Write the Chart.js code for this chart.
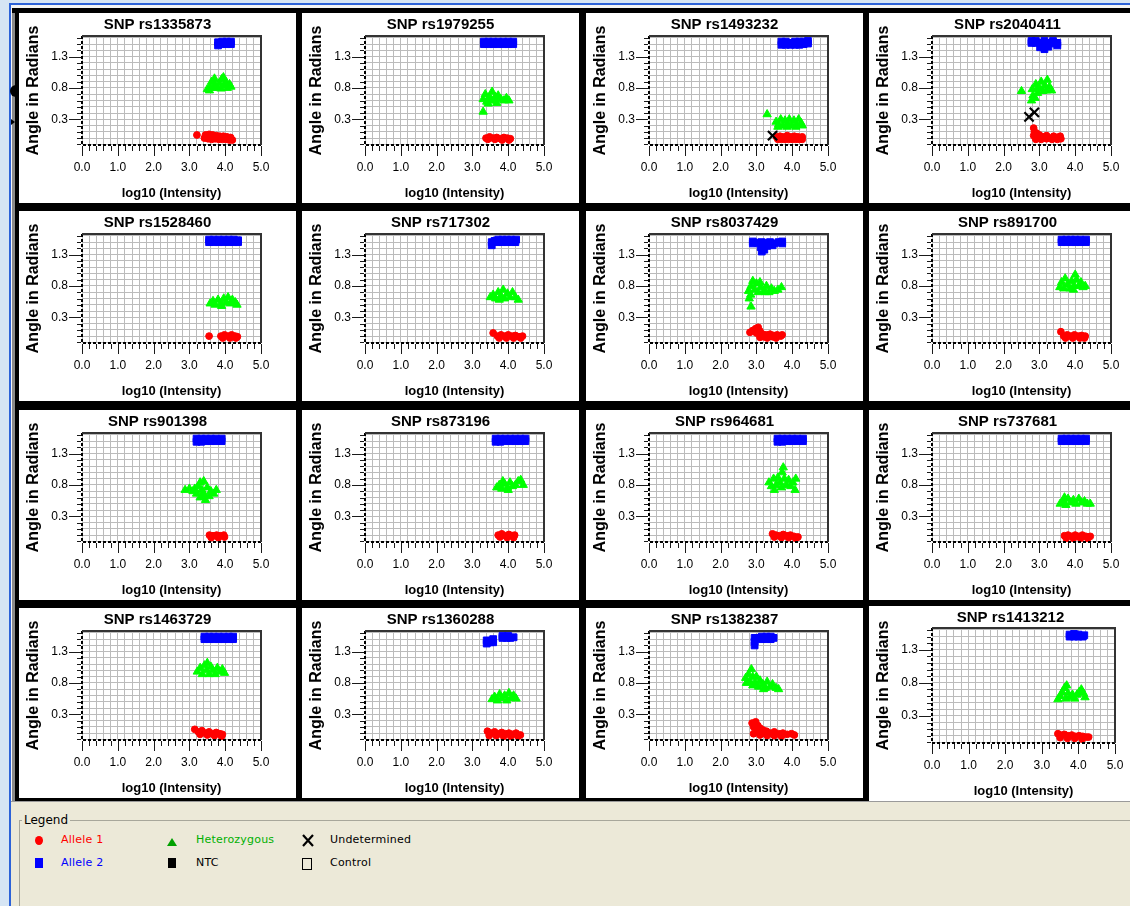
<!DOCTYPE html>
<html>
<head>
<meta charset="utf-8">
<script src="https://cdn.jsdelivr.net/npm/chart.js@4.4.1/dist/chart.umd.min.js"></script>
<style>
  html, body { margin: 0; padding: 0; }
  body { width: 1130px; height: 906px; overflow: hidden; position: relative; background: #D6E5F4; }
  .abs { position: absolute; }
  #blueEdge { left: 9px; top: 3px; width: 1121px; height: 903px; background: #2C62D8; }
  #lightEdge { left: 11px; top: 5px; width: 1119px; height: 901px; background: #F4F4F4; }
  #frame { left: 12px; top: 8px; width: 1118px; height: 794px; background: #000; }
  #frameShade { left: 12px; top: 13px; width: 3px; height: 789px; background: #8A8A8A; }
  .panel { position: absolute; background: #fff; overflow: hidden; }
  .panel canvas { position: absolute; left: 0; top: 0; }
  #legendArea { left: 11px; top: 801px; width: 1119px; height: 105px; background: #ECE9D8; border-top: 1px solid #9A9A9A; }
  #legendBox { left: 19px; top: 820px; width: 1120px; height: 100px; border-top: 1px solid #A8A79B; border-left: 1px solid #A8A79B; }
  #legendCaption { left: 22px; top: 813px; padding: 0 2px; background: #ECE9D8; font: 12px 'DejaVu Sans', sans-serif; color: #000; line-height: 15px; }
  .lgText { position: absolute; font: 11px 'DejaVu Sans', sans-serif; line-height: 13px; letter-spacing: 0.2px; }
</style>
</head>
<body>
<div id="blueEdge" class="abs"></div>
<div id="lightEdge" class="abs"></div>
<div id="frame" class="abs"></div>
<div id="frameShade" class="abs"></div>
<div class="abs" style="left:10px;top:85px;width:7px;height:12px;background:#000;border-radius:6px 0 0 6px;"></div>
<div class="abs" style="left:11px;top:119px;width:0;height:0;border-top:3px solid transparent;border-bottom:3px solid transparent;border-left:4px solid #000;"></div>
<div id="panels"></div>

<div id="legendArea" class="abs"></div>
<div id="legendBox" class="abs"></div>
<div id="legendCaption" class="abs">Legend</div>

<div class="abs" style="left:35px;top:836px;width:8px;height:9px;border-radius:50%;background:#FF0000;"></div>
<div class="lgText" style="left:61px;top:833px;color:#FF0000;">Allele 1</div>
<div class="abs" style="left:35px;top:858px;width:8px;height:10px;background:#0000FF;"></div>
<div class="lgText" style="left:61px;top:856px;color:#0000FF;">Allele 2</div>

<div class="abs" style="left:167px;top:838px;width:0;height:0;border-left:5px solid transparent;border-right:5px solid transparent;border-bottom:8px solid #00A000;"></div>
<div class="lgText" style="left:196px;top:833px;color:#00B000;">Heterozygous</div>
<div class="abs" style="left:168px;top:858px;width:8px;height:10px;background:#000;"></div>
<div class="lgText" style="left:196px;top:856px;color:#000;">NTC</div>

<svg class="abs" style="left:302px;top:834px;" width="12" height="13" viewBox="0 0 12 13">
  <path d="M1 1 L11 12 M11 1 L1 12" stroke="#000" stroke-width="2.2" fill="none"/>
</svg>
<div class="lgText" style="left:330px;top:833px;color:#000;">Undetermined</div>
<div class="abs" style="left:302px;top:858px;width:10px;height:12px;box-sizing:border-box;border:1.6px solid #000;"></div>
<div class="lgText" style="left:330px;top:856px;color:#000;">Control</div>

<script>
// ---- SNP assay identifiers, row by row ----
const snpIds = [
  'rs1335873', 'rs1979255', 'rs1493232', 'rs2040411',
  'rs1528460', 'rs717302',  'rs8037429', 'rs891700',
  'rs901398',  'rs873196',  'rs964681',  'rs737681',
  'rs1463729', 'rs1360288', 'rs1382387', 'rs1413212'
];

// ---- genotype calls: [log10 intensity, angle in radians], one list per SNP ----
const allele1 = [
  [[3.21,0.05],[3.45,0.05],[3.55,0.06],[3.65,0.05],[3.75,0.04],[3.85,0.03],[3.95,0.03],[4.05,0.02],[4.15,0.01],[3.42,0.0],[3.52,-0.01],[3.62,-0.02],[3.72,-0.01],[3.82,-0.02],[3.92,-0.02],[4.02,-0.02],[4.12,-0.03],[4.2,-0.03]],
  [[3.38,0.0],[3.48,0.02],[3.58,0.0],[3.68,0.01],[3.78,-0.01],[3.88,0.01],[3.98,0.0],[4.06,-0.01],[3.43,-0.02],[3.63,-0.02],[3.83,-0.03],[4.02,-0.03]],
  [[3.56,0.02],[3.66,0.03],[3.76,0.02],[3.86,0.04],[3.96,0.02],[4.06,0.03],[4.16,0.02],[4.28,0.02],[3.6,-0.02],[3.7,-0.02],[3.8,-0.02],[3.9,-0.02],[4.0,-0.02],[4.1,-0.02],[4.2,-0.02],[4.28,-0.02]],
  [[2.84,0.16],[2.86,0.1],[2.84,0.04],[2.95,0.0],[3.0,0.05],[3.1,0.02],[3.2,0.04],[3.3,0.0],[3.4,0.03],[3.5,0.01],[3.58,0.03],[2.92,0.08],[3.2,-0.01],[2.9,-0.02],[3.05,-0.02],[3.35,-0.02],[3.5,-0.02],[3.6,-0.01]],
  [[3.55,0.0],[3.88,0.0],[3.98,0.02],[4.08,0.0],[4.18,0.02],[4.28,0.0],[4.34,-0.01],[3.93,-0.03],[4.13,-0.03],[4.3,-0.03]],
  [[3.58,0.05],[3.7,0.0],[3.8,0.02],[3.9,0.0],[4.0,0.02],[4.1,0.0],[4.2,0.01],[4.3,-0.01],[4.4,0.0],[3.75,-0.03],[3.95,-0.03],[4.15,-0.03],[4.35,-0.03]],
  [[2.82,0.06],[2.9,0.09],[2.98,0.12],[3.05,0.14],[3.1,0.08],[3.0,0.05],[3.18,0.03],[3.28,0.02],[3.38,0.03],[3.48,0.01],[3.58,0.02],[3.68,0.0],[3.72,0.02],[3.2,-0.01],[3.45,-0.01],[3.1,-0.02],[3.3,-0.03],[3.55,-0.03]],
  [[3.6,0.07],[3.68,0.0],[3.78,0.02],[3.88,0.0],[3.98,0.02],[4.08,0.0],[4.18,0.01],[4.28,0.0],[3.73,-0.03],[3.93,-0.03],[4.13,-0.03],[4.26,-0.03]],
  [[3.56,0.0],[3.66,-0.01],[3.76,0.0],[3.86,-0.01],[3.96,0.0],[3.98,-0.03],[3.61,-0.04],[3.81,-0.04]],
  [[3.72,0.0],[3.82,0.02],[3.92,-0.01],[4.02,0.01],[4.12,-0.01],[4.18,0.0],[3.77,-0.03],[3.97,-0.04],[4.15,-0.04]],
  [[3.45,0.02],[3.55,0.0],[3.65,-0.01],[3.75,0.01],[3.85,-0.01],[3.95,0.0],[4.05,-0.02],[4.16,-0.03],[3.5,-0.03],[3.7,-0.04],[3.9,-0.04],[4.1,-0.05]],
  [[3.7,-0.01],[3.8,0.0],[3.9,-0.02],[4.0,0.0],[4.1,-0.02],[4.2,0.0],[4.3,-0.02],[4.42,-0.02],[3.75,-0.05],[3.95,-0.05],[4.15,-0.05],[4.35,-0.05]],
  [[3.15,0.06],[3.25,0.02],[3.35,0.04],[3.45,0.0],[3.55,0.02],[3.65,-0.01],[3.75,0.01],[3.85,-0.01],[3.92,-0.02],[3.3,-0.02],[3.5,-0.03],[3.7,-0.04],[3.9,-0.05]],
  [[3.42,0.03],[3.52,0.0],[3.62,0.02],[3.72,-0.01],[3.82,0.01],[3.92,-0.01],[4.02,0.0],[4.12,-0.02],[4.22,0.0],[4.34,-0.03],[3.47,-0.04],[3.67,-0.04],[3.87,-0.05],[4.07,-0.05],[4.27,-0.05]],
  [[2.88,0.16],[2.92,0.1],[2.98,0.18],[3.04,0.12],[3.1,0.08],[3.0,0.04],[3.18,0.05],[3.28,0.03],[3.38,0.0],[3.5,0.02],[3.62,-0.01],[3.74,0.0],[3.86,-0.02],[3.98,-0.01],[4.06,-0.03],[3.2,0.0],[2.92,-0.01],[3.1,-0.03],[3.3,-0.04],[3.5,-0.04],[3.7,-0.05]],
  [[3.44,0.03],[3.52,0.01],[3.62,0.02],[3.72,0.0],[3.82,0.01],[3.92,-0.01],[4.02,0.0],[4.12,-0.01],[4.22,-0.02],[4.28,-0.02],[3.5,-0.03],[3.7,-0.04],[3.9,-0.04],[4.1,-0.05]]
];

const allele2 = [
  [[3.8,1.48],[3.8,1.53],[3.92,1.5],[3.92,1.54],[4.04,1.5],[4.04,1.54],[4.16,1.5],[4.16,1.54]],
  [[3.32,1.5],[3.32,1.54],[3.45,1.5],[3.45,1.54],[3.58,1.5],[3.58,1.54],[3.72,1.5],[3.72,1.54],[3.86,1.5],[3.86,1.54],[4.0,1.5],[4.0,1.54],[4.14,1.5],[4.14,1.54]],
  [[3.7,1.49],[3.7,1.54],[3.82,1.49],[3.82,1.54],[3.95,1.49],[3.95,1.52],[4.08,1.49],[4.08,1.54],[4.2,1.49],[4.2,1.54],[4.32,1.5],[4.32,1.54],[4.44,1.51],[4.44,1.55]],
  [[2.78,1.52],[2.78,1.55],[2.9,1.52],[2.9,1.55],[3.02,1.52],[3.14,1.55],[3.14,1.5],[3.26,1.52],[3.38,1.55],[3.38,1.51],[3.5,1.52],[3.5,1.48],[3.02,1.45],[3.14,1.42],[3.25,1.46]],
  [[3.55,1.5],[3.55,1.54],[3.68,1.5],[3.68,1.54],[3.82,1.5],[3.82,1.54],[3.96,1.5],[3.96,1.54],[4.1,1.5],[4.1,1.54],[4.24,1.5],[4.24,1.54],[4.36,1.5],[4.36,1.53]],
  [[3.54,1.45],[3.54,1.5],[3.62,1.52],[3.72,1.5],[3.72,1.54],[3.84,1.5],[3.84,1.54],[3.96,1.5],[3.96,1.54],[4.08,1.5],[4.08,1.54],[4.2,1.5],[4.22,1.54]],
  [[2.9,1.48],[2.9,1.51],[3.02,1.49],[3.14,1.5],[3.26,1.49],[3.38,1.5],[3.5,1.48],[3.62,1.5],[3.72,1.48],[3.72,1.51],[3.12,1.42],[3.22,1.38],[3.15,1.35],[3.3,1.44],[3.45,1.45]],
  [[3.62,1.5],[3.62,1.54],[3.75,1.5],[3.75,1.54],[3.88,1.5],[3.88,1.54],[4.0,1.5],[4.0,1.54],[4.14,1.5],[4.14,1.54],[4.3,1.5],[4.3,1.54]],
  [[3.2,1.49],[3.2,1.54],[3.33,1.49],[3.33,1.54],[3.46,1.5],[3.46,1.54],[3.6,1.5],[3.6,1.54],[3.74,1.5],[3.74,1.54],[3.9,1.5],[3.9,1.54]],
  [[3.65,1.49],[3.65,1.54],[3.78,1.49],[3.78,1.54],[3.92,1.5],[3.92,1.54],[4.06,1.5],[4.06,1.54],[4.2,1.5],[4.2,1.54],[4.34,1.5],[4.34,1.54],[4.48,1.5],[4.48,1.54]],
  [[3.59,1.49],[3.59,1.54],[3.72,1.49],[3.72,1.54],[3.86,1.5],[3.86,1.54],[4.0,1.5],[4.0,1.54],[4.14,1.5],[4.14,1.54],[4.3,1.5],[4.3,1.54]],
  [[3.62,1.5],[3.62,1.54],[3.75,1.5],[3.75,1.54],[3.88,1.5],[3.88,1.54],[4.02,1.5],[4.02,1.54],[4.16,1.5],[4.16,1.54],[4.3,1.5],[4.3,1.54]],
  [[3.42,1.5],[3.42,1.54],[3.55,1.5],[3.55,1.54],[3.68,1.5],[3.68,1.54],[3.82,1.5],[3.82,1.54],[3.96,1.5],[3.96,1.54],[4.1,1.5],[4.1,1.54],[4.22,1.5],[4.22,1.54]],
  [[3.4,1.43],[3.4,1.48],[3.5,1.45],[3.58,1.5],[3.58,1.45],[3.84,1.52],[3.84,1.55],[3.96,1.52],[4.0,1.55],[4.06,1.52],[4.15,1.53]],
  [[2.95,1.52],[2.95,1.46],[2.95,1.4],[3.05,1.52],[3.15,1.5],[3.15,1.54],[3.28,1.5],[3.28,1.54],[3.4,1.5],[3.4,1.54],[3.48,1.52]],
  [[3.76,1.5],[3.76,1.53],[3.88,1.5],[3.88,1.54],[4.0,1.5],[4.0,1.53],[4.12,1.5],[4.16,1.52]]
];

const heterozygous = [
  [[3.5,0.78],[3.58,0.82],[3.62,0.9],[3.66,0.8],[3.72,0.86],[3.78,0.8],[3.84,0.88],[3.9,0.94],[3.95,0.97],[3.98,0.84],[4.02,0.9],[4.06,0.8],[4.12,0.86],[4.16,0.82],[3.56,0.76],[3.7,0.95],[3.88,0.79]],
  [[3.3,0.42],[3.3,0.62],[3.36,0.7],[3.4,0.58],[3.48,0.66],[3.55,0.74],[3.6,0.6],[3.68,0.56],[3.72,0.68],[3.8,0.62],[3.88,0.6],[3.95,0.64],[4.02,0.6],[3.44,0.55],[3.52,0.6],[3.64,0.66]],
  [[3.3,0.38],[3.55,0.26],[3.62,0.22],[3.68,0.3],[3.75,0.2],[3.8,0.28],[3.88,0.22],[3.92,0.3],[4.0,0.2],[4.05,0.28],[4.12,0.22],[4.18,0.3],[4.25,0.24],[3.6,0.18],[3.85,0.18],[4.1,0.18],[4.28,0.2]],
  [[2.5,0.75],[2.78,0.6],[2.82,0.68],[2.8,0.78],[2.9,0.86],[2.95,0.72],[3.0,0.8],[3.05,0.9],[3.1,0.75],[3.15,0.84],[3.22,0.93],[3.28,0.82],[3.34,0.76],[2.88,0.64],[3.2,0.76],[2.95,0.8]],
  [[3.58,0.52],[3.66,0.56],[3.72,0.5],[3.8,0.58],[3.88,0.52],[3.96,0.6],[4.02,0.54],[4.08,0.62],[4.14,0.52],[4.2,0.58],[4.28,0.54],[4.33,0.5],[3.9,0.48]],
  [[3.5,0.62],[3.58,0.66],[3.65,0.6],[3.72,0.7],[3.8,0.64],[3.86,0.74],[3.9,0.6],[3.98,0.68],[4.05,0.62],[4.12,0.7],[4.2,0.62],[4.28,0.58],[3.75,0.58]],
  [[2.85,0.47],[2.8,0.6],[2.78,0.72],[2.85,0.8],[2.9,0.88],[2.95,0.74],[3.0,0.84],[3.05,0.7],[3.12,0.78],[3.2,0.72],[3.28,0.8],[3.35,0.7],[3.42,0.76],[3.5,0.72],[3.6,0.74],[3.7,0.78],[3.1,0.86],[2.84,0.66],[3.25,0.7]],
  [[3.57,0.78],[3.62,0.86],[3.68,0.76],[3.72,0.92],[3.78,0.82],[3.85,0.76],[3.9,0.88],[3.96,0.8],[4.0,0.98],[4.04,0.9],[4.1,0.8],[4.16,0.86],[4.22,0.78],[4.28,0.8],[3.95,0.74]],
  [[2.88,0.72],[3.0,0.74],[3.1,0.7],[3.2,0.66],[3.25,0.78],[3.3,0.6],[3.35,0.72],[3.4,0.86],[3.42,0.64],[3.5,0.76],[3.55,0.62],[3.6,0.7],[3.68,0.66],[3.75,0.72],[3.3,0.84],[3.45,0.56],[3.38,0.66],[3.15,0.74]],
  [[3.68,0.76],[3.75,0.8],[3.82,0.74],[3.9,0.82],[3.98,0.76],[4.05,0.84],[4.12,0.78],[4.2,0.8],[4.28,0.86],[4.35,0.88],[4.42,0.8],[3.85,0.86],[4.0,0.72]],
  [[3.35,0.84],[3.42,0.78],[3.48,0.9],[3.55,0.8],[3.6,0.92],[3.66,0.84],[3.72,1.0],[3.75,1.08],[3.78,0.9],[3.84,0.8],[3.9,0.88],[3.96,0.78],[4.02,0.84],[4.08,0.72],[4.1,0.9],[3.5,0.72],[3.7,0.76]],
  [[3.58,0.5],[3.66,0.54],[3.74,0.48],[3.8,0.58],[3.88,0.52],[3.95,0.56],[4.02,0.5],[4.1,0.58],[4.18,0.52],[4.26,0.54],[4.34,0.5],[4.42,0.5],[3.7,0.6]],
  [[3.22,0.98],[3.3,1.04],[3.36,0.94],[3.42,1.08],[3.48,1.0],[3.55,0.94],[3.6,1.06],[3.66,1.0],[3.72,0.94],[3.78,1.04],[3.85,0.98],[3.92,1.02],[3.98,0.96],[3.5,1.12]],
  [[3.55,0.54],[3.62,0.58],[3.7,0.52],[3.76,0.62],[3.82,0.56],[3.9,0.6],[3.96,0.52],[4.02,0.64],[4.08,0.56],[4.15,0.6],[4.22,0.55]],
  [[2.7,0.88],[2.78,0.94],[2.82,0.82],[2.86,1.02],[2.9,0.9],[2.96,0.8],[3.0,0.9],[3.06,0.74],[3.1,0.84],[3.18,0.78],[3.25,0.72],[3.3,0.82],[3.38,0.74],[3.45,0.78],[3.55,0.72],[3.62,0.7],[2.72,0.8],[3.2,0.7],[2.9,0.76]],
  [[3.44,0.55],[3.5,0.6],[3.56,0.66],[3.62,0.72],[3.68,0.76],[3.72,0.64],[3.78,0.58],[3.84,0.62],[3.9,0.56],[3.96,0.62],[4.02,0.66],[4.08,0.7],[4.14,0.64],[4.18,0.58],[3.66,0.56]]
];

const undetermined = [
  [], [], [[3.45,0.04]], [[2.71,0.34],[2.86,0.41]],
  [], [], [], [],
  [], [], [], [],
  [], [], [], []
];

// ---- axis ticks ----
const xGridValues = [0, 0.2, 0.4, 0.6, 0.8, 1, 1.2, 1.4, 1.6, 1.8, 2, 2.2, 2.4, 2.6, 2.8, 3, 3.2, 3.4, 3.6, 3.8, 4, 4.2, 4.4, 4.6, 4.8, 5];
const yGridValues = [-0.1, 0, 0.1, 0.2, 0.3, 0.4, 0.5, 0.6, 0.7, 0.8, 0.9, 1.0, 1.1, 1.2, 1.3, 1.4, 1.5, 1.6];
const xTickValues = [0, 1, 2, 3, 4, 5];
const xTickLabels = ['0.0', '1.0', '2.0', '3.0', '4.0', '5.0'];
const yTickValues = [0.3, 0.8, 1.3];
const yTickLabels = ['0.3', '0.8', '1.3'];

// ---- fonts ----
const SANS = "'Liberation Sans', Arial, sans-serif";
const tickFont = {family: SANS, size: 12};
const xTitleFont = {family: SANS, size: 13, weight: 'bold'};
const yTitleFont = {family: SANS, size: 16, weight: 'bold'};

function labelAt(value, values, labels) {
  for (let i = 0; i < values.length; i++) {
    if (Math.abs(values[i] - value) < 1e-6) return labels[i];
  }
  return '';
}

// tick marks (long at labelled ticks), dashed left/bottom axis lines,
// and the solid top/right frame of each plot
const plotDecor = {
  id: 'plotDecor',
  afterDraw(chart) {
    const {ctx, chartArea: a, scales: {x, y}} = chart;
    ctx.save();
    ctx.strokeStyle = '#1a1a1a';
    ctx.lineWidth = 1;
    ctx.beginPath();
    x.ticks.forEach(t => {
      const px = Math.round(x.getPixelForValue(t.value)) + 0.5;
      const len = labelAt(t.value, xTickValues, xTickLabels) ? 10 : 5;
      ctx.moveTo(px, a.bottom + 1);
      ctx.lineTo(px, a.bottom + 1 + len);
    });
    y.ticks.forEach(t => {
      const py = Math.round(y.getPixelForValue(t.value)) + 0.5;
      const len = labelAt(t.value, yTickValues, yTickLabels) ? 12 : 4;
      ctx.moveTo(a.left - 1, py);
      ctx.lineTo(a.left - 1 - len, py);
    });
    ctx.stroke();

    ctx.strokeStyle = '#000';
    ctx.lineWidth = 2;
    ctx.setLineDash([3, 2]);
    ctx.beginPath();
    ctx.moveTo(a.left, a.top);
    ctx.lineTo(a.left, a.bottom);
    ctx.lineTo(a.right, a.bottom);
    ctx.stroke();

    ctx.setLineDash([]);
    ctx.strokeStyle = '#333';
    ctx.beginPath();
    ctx.moveTo(a.left, a.top);
    ctx.lineTo(a.right, a.top);
    ctx.lineTo(a.right, a.bottom);
    ctx.stroke();
    ctx.restore();
  }
};

function toPoints(list) { return list.map(p => ({x: p[0], y: p[1]})); }

const colLeft = [19, 302, 586, 869];
const rowTop = [13, 211, 410, 608];

function buildPanel(i) {
  const r = Math.floor(i / 4), c = i % 4;
  const last = (i === 15);
  const left = colLeft[c];
  const top = last ? 606 : rowTop[r];
  const cw = last ? 283 : 277;
  const ch = last ? 195 : 190;

  const div = document.createElement('div');
  div.className = 'panel';
  div.style.left = left + 'px';
  div.style.top = top + 'px';
  div.style.width = Math.min(cw, 1130 - left) + 'px';
  div.style.height = ch + 'px';
  const canvas = document.createElement('canvas');
  canvas.width = cw;
  canvas.height = ch;
  div.appendChild(canvas);
  document.getElementById('panels').appendChild(div);

  new Chart(canvas, {
    type: 'scatter',
    data: {
      datasets: [
        {label: 'Undetermined', data: toPoints(undetermined[i]), pointStyle: 'crossRot', pointRadius: 6.5, borderColor: '#000', borderWidth: 2.2, backgroundColor: '#000'},
        {label: 'Allele 1', data: toPoints(allele1[i]), pointStyle: 'circle', pointRadius: 3.4, borderWidth: 1, borderColor: '#FF0000', backgroundColor: '#FF0000'},
        {label: 'Heterozygous', data: toPoints(heterozygous[i]), pointStyle: 'triangle', pointRadius: 4.8, borderWidth: 1, borderColor: '#00FF00', backgroundColor: '#00FF00'},
        {label: 'Allele 2', data: toPoints(allele2[i]), pointStyle: 'rect', pointRadius: 4.8, borderWidth: 1, borderColor: '#0000FF', backgroundColor: '#0000FF'}
      ]
    },
    options: {
      responsive: false,
      animation: false,
      devicePixelRatio: 1,
      events: [],
      layout: {padding: 0},
      plugins: {
        legend: {display: false},
        tooltip: {enabled: false},
        title: {
          display: true,
          text: 'SNP ' + snpIds[i],
          color: '#000',
          font: {family: SANS, size: 15, weight: 'bold'},
          padding: {top: 3, bottom: last ? 1 : 2}
        }
      },
      scales: {
        x: {
          type: 'linear', min: 0, max: 5,
          afterBuildTicks: s => { s.ticks = xGridValues.map(v => ({value: v})); },
          afterFit: s => { s.height = 58; },
          ticks: {autoSkip: false, maxRotation: 0, minRotation: 0, padding: 15, color: '#000', font: tickFont,
                  callback: v => labelAt(v, xTickValues, xTickLabels)},
          grid: {color: '#BBBBBB', lineWidth: 1, drawTicks: false},
          border: {display: false},
          title: {display: true, text: 'log10 (Intensity)', color: '#000', font: xTitleFont, padding: {top: 0, bottom: 2}}
        },
        y: {
          type: 'linear', min: -0.11, max: 1.63,
          afterBuildTicks: s => { s.ticks = yGridValues.map(v => ({value: v})); },
          afterFit: s => { s.width = 63; },
          ticks: {autoSkip: false, padding: 14, color: '#000', font: tickFont,
                  callback: v => labelAt(v, yTickValues, yTickLabels)},
          grid: {color: '#BBBBBB', lineWidth: 1, drawTicks: false},
          border: {display: false},
          title: {display: true, text: 'Angle in Radians', color: '#000', font: yTitleFont, padding: {top: 5, bottom: 0}}
        },
        // empty margin on the right of the plot, keeps the title centred on the whole panel
        margin: {
          type: 'linear', position: 'right', display: true,
          afterFit: s => { s.width = cw - (last ? 246 : 242); },
          ticks: {display: false},
          grid: {display: false, drawTicks: false},
          border: {display: false},
          title: {display: false}
        }
      }
    },
    plugins: [plotDecor]
  });
}

for (let i = 0; i < snpIds.length; i++) buildPanel(i);
</script>
</body>
</html>
